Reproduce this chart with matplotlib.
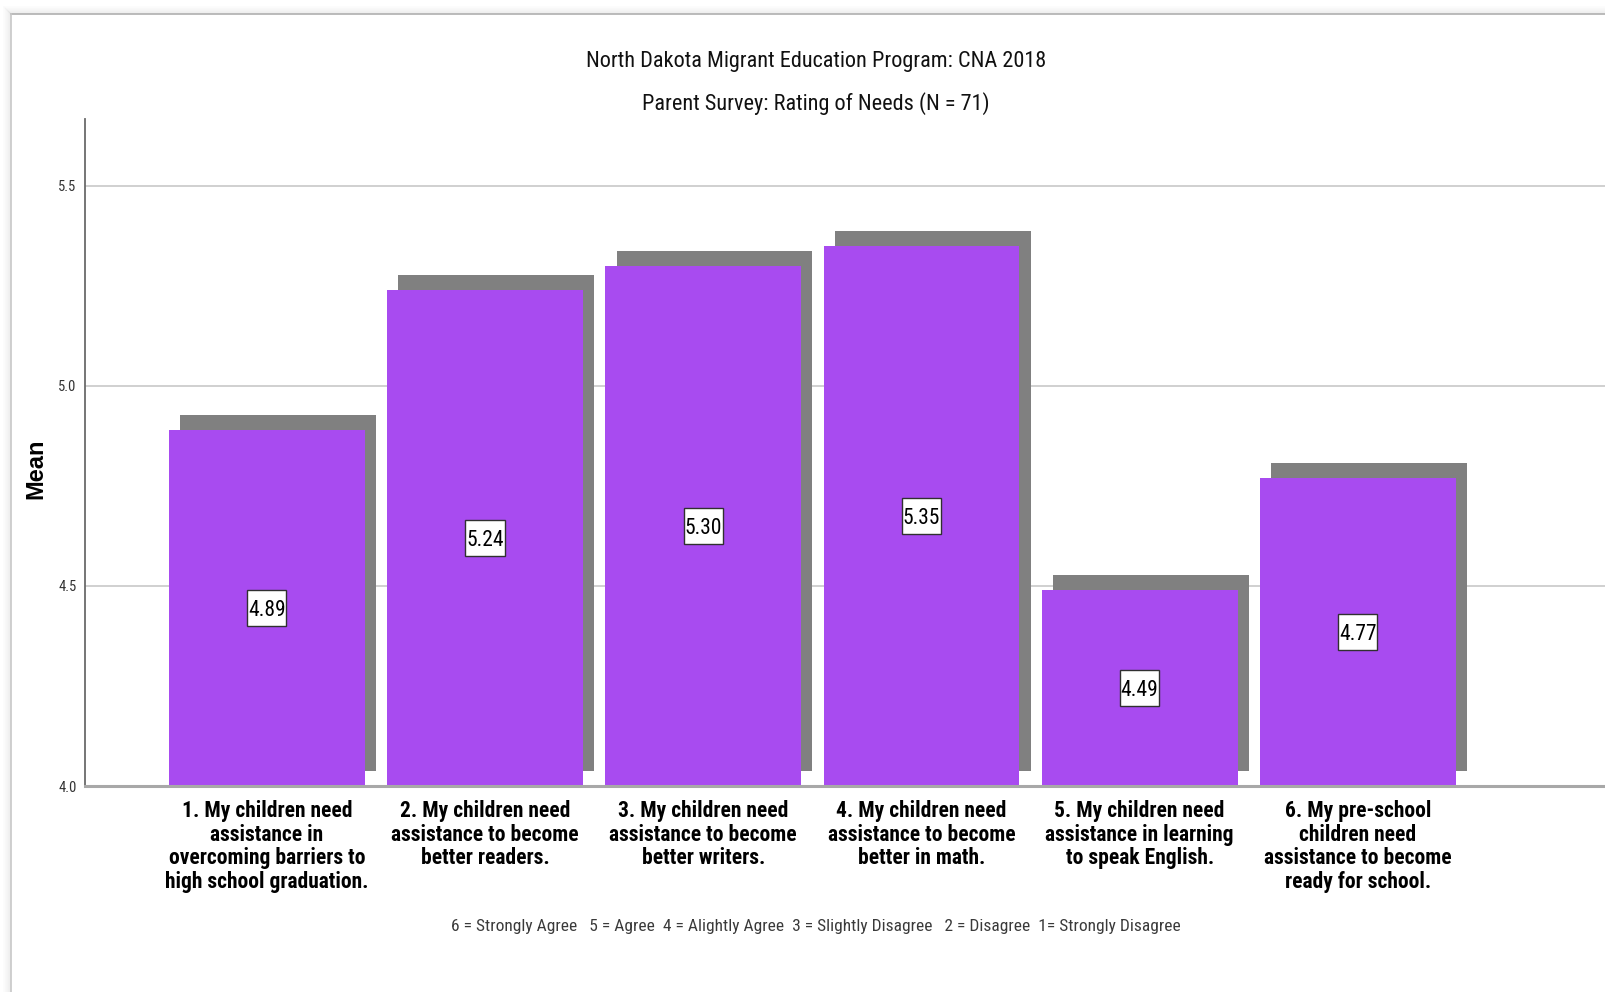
import matplotlib
matplotlib.use("Agg")
import matplotlib.pyplot as plt
from matplotlib.lines import Line2D
from matplotlib.patches import Rectangle
import numpy as np

# survey items and their mean ratings
items = [
    "1. My children need\nassistance in\novercoming barriers to\nhigh school graduation.",
    "2. My children need\nassistance to become\nbetter readers.",
    "3. My children need\nassistance to become\nbetter writers.",
    "4. My children need\nassistance to become\nbetter in math.",
    "5. My children need\nassistance in learning\nto speak English.",
    "6. My pre-school\nchildren need\nassistance to become\nready for school.",
]
means = [4.89, 5.24, 5.30, 5.35, 4.49, 4.77]
yticks = [4.0, 4.5, 5.0, 5.5]

title1 = "North Dakota Migrant Education Program: CNA 2018"
title2 = "Parent Survey: Rating of Needs (N = 71)"
scale_note = ("6 = Strongly Agree   5 = Agree  4 = Alightly Agree  "
              "3 = Slightly Disagree   2 = Disagree  1= Strongly Disagree")

narrow = ["Roboto Condensed", "PT Sans Narrow", "DejaVu Sans"]
plain = ["Liberation Sans", "DejaVu Sans"]

bar_color = "#a84bf0"
shadow_color = "#808080"
base = 4.0
width = 0.897
dx, dy = 0.052, 0.038   # drop-shadow offset
box_w, box_h = 0.179, 0.09  # value label frame, data units

fig = plt.figure(figsize=(16.06, 9.92), dpi=100)
ax = fig.add_axes([85 / 1606, 1 - 786 / 992, 1 - 85 / 1606, (786 - 119) / 992])

x = np.arange(len(means))
vals = np.array(means)

# shadows first, then the bars on top
ax.bar(x + dx, vals - base, width=width, bottom=base + dy,
       color=shadow_color, zorder=2, linewidth=0)
ax.bar(x, vals - base, width=width, bottom=base,
       color=bar_color, zorder=3, linewidth=0)

for xi, v in zip(x, means):
    mid = (base + v) / 2
    ax.add_patch(Rectangle((xi - box_w / 2, mid - box_h / 2), box_w, box_h,
                           fc="white", ec="#303030", lw=1, zorder=4))
    ax.text(xi, mid, f"{v:.2f}", ha="center", va="center_baseline",
            fontsize=15.5, family=narrow, color="black", zorder=5)

ax.set_xlim(-0.833, 6.137)
ax.set_ylim(4.0, 5.667)
ax.set_yticks(yticks)
ax.set_yticklabels([f"{t:.1f}" for t in yticks], family=narrow, fontsize=10.5, color="#333333")
ax.set_xticks(x)
ax.set_xticklabels(items, family=narrow, fontsize=15.5, fontweight="bold",
                   linespacing=1.1)
ax.tick_params(axis="y", length=0, pad=6)
ax.tick_params(axis="x", length=0, pad=10)

ax.grid(axis="y", color="#c8c8c8", linewidth=1.2, zorder=0)
ax.set_axisbelow(True)
for s in ["top", "right"]:
    ax.spines[s].set_visible(False)
ax.spines["left"].set_color("#6a6a6a")
ax.spines["left"].set_linewidth(1.3)
ax.spines["bottom"].set_color("#a8a8a8")
ax.spines["bottom"].set_linewidth(2.2)
ax.spines["bottom"].set_zorder(4)

fig.text(36 / 1606, 1 - 469 / 992, "Mean", rotation=90, ha="center", va="center",
         fontsize=17, fontweight="bold", family=plain)
fig.text(816 / 1606, 1 - 62 / 992, title1, ha="center", va="center",
         fontsize=16, family=narrow, color="#111111")
fig.text(816 / 1606, 1 - 104 / 992, title2, ha="center", va="center",
         fontsize=16, family=narrow, color="#111111")
fig.text(816 / 1606, 1 - 927 / 992, scale_note, ha="center", va="center",
         fontsize=12.5, family=narrow, color="#3a3a3a")

# panel border with a soft shadow along the top and left edges
W, H = 1606, 992
for k in range(8, 0, -1):
    a = 0.05 * (9 - k) / 8
    fig.add_artist(Line2D([(11 - k) / W, 1], [1 - (14 - k) / H] * 2,
                          color="black", alpha=a, lw=1))
    fig.add_artist(Line2D([(11 - k) / W] * 2, [0, 1 - (14 - k) / H],
                          color="black", alpha=a, lw=1))
fig.add_artist(Line2D([11 / W, 1], [1 - 14 / H] * 2, color="#b0b0b0", lw=1.2))
fig.add_artist(Line2D([11 / W] * 2, [0, 1 - 14 / H], color="#c8c8c8", lw=1.2))

fig.savefig("out.png", dpi=100)
